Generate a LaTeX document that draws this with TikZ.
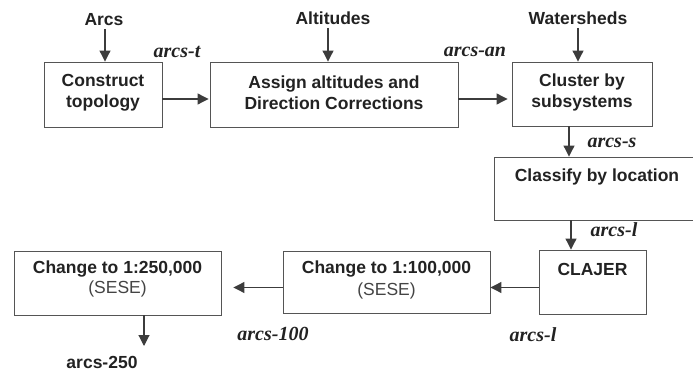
\documentclass[tikz,border=0pt]{standalone}
\usepackage{fontspec}
\setmainfont{Liberation Sans}
\newfontfamily\labelfont{Liberation Serif}
\usetikzlibrary{arrows.meta}
\definecolor{ink}{HTML}{222222}
\definecolor{edge}{HTML}{555555}
\begin{document}
\begin{tikzpicture}[x=1pt,y=-1pt,
  stepbox/.style={draw=edge,line width=0.9pt,rectangle,inner sep=0pt},
  boxtext/.style={font=\fontsize{17.5}{21}\selectfont\bfseries,text=ink,align=center,inner sep=0pt},
  subtext/.style={font=\fontsize{17.5}{21}\selectfont,text=edge!80!black,inner sep=0pt},
  flowlabel/.style={font=\fontsize{20}{22}\selectfont\labelfont\bfseries\itshape,text=ink,inner sep=0pt},
  flow/.style={draw=edge!70!black,line width=1.1pt,-{Triangle[length=11pt,width=11pt]}}
]
\useasboundingbox (0,0) rectangle (693,374);

% process boxes
\node[stepbox,minimum width=118,minimum height=65] (construct) at (103,94.5) {};
\node[stepbox,minimum width=248,minimum height=65] (assign) at (334,94.5) {};
\node[stepbox,minimum width=140,minimum height=64] (cluster) at (582,94) {};
\node[stepbox,minimum width=212,minimum height=63] (classify) at (600,188.5) {};
\node[stepbox,minimum width=107,minimum height=64] (clajer) at (592.5,282) {};
\node[stepbox,minimum width=207,minimum height=62] (chg100) at (386.5,282) {};
\node[stepbox,minimum width=207,minimum height=64] (chg250) at (117.5,283) {};

% box captions
\node[boxtext] (tconstruct) at (103,92.5) {Construct\\topology};
\node[boxtext] (tassign) at (334,92.5) {Assign altitudes and\\Direction Corrections};
\node[boxtext] (tcluster) at (582,92.5) {Cluster by\\subsystems};
\node[boxtext] (tclassify) at (597,177) {Classify by location};
\node[boxtext] (tclajer) at (592.5,269) {CLAJER};
\node[boxtext] (t100) at (386.5,269) {Change to 1:100,000};
\node[subtext] (s100) at (386.5,291) {(SESE)};
\node[boxtext] (t250) at (117.5,269.5) {Change to 1:250,000};
\node[subtext] (s250) at (117.5,289) {(SESE)};

% inputs
\node[boxtext] (arcs) at (104,20) {Arcs};
\node[boxtext] (alt) at (333,18.5) {Altitudes};
\node[boxtext] (wsh) at (578,18.5) {Watersheds};
\node[boxtext] (out250) at (102,362) {arcs-250};

% flow labels
\node[flowlabel] (lt) at (177,52) {arcs-t};
\node[flowlabel] (lan) at (475,52) {arcs-an};
\node[flowlabel] (ls) at (612,143) {arcs-s};
\node[flowlabel] (ll1) at (614,230) {arcs-l};
\node[flowlabel] (l100) at (273,334) {arcs-100};
\node[flowlabel] (ll2) at (533,335) {arcs-l};

% connector end points
\coordinate (arcsFoot) at (105,29);
\coordinate (altFoot) at (328,28);
\coordinate (wshFoot) at (578,28);
\coordinate (topRow) at (0,99);
\coordinate (lowRow) at (0,287.5);
\coordinate (cluOut) at (569,0);
\coordinate (claOut) at (571,0);
\coordinate (endDown) at (144,346);

% connectors
\draw[flow] (arcsFoot) -- (arcsFoot |- construct.north);
\draw[flow] (altFoot) -- (altFoot |- assign.north);
\draw[flow] (wshFoot) -- (wshFoot |- cluster.north);
\draw[flow] (construct.east |- topRow) -- ([xshift=-1]assign.west |- topRow);
\draw[flow] (assign.east |- topRow) -- ([xshift=-4]cluster.west |- topRow);
\draw[flow] (cluOut |- cluster.south) -- (cluOut |- classify.north);
\draw[flow] (claOut |- classify.south) -- (claOut |- clajer.north);
\draw[flow] (clajer.west |- lowRow) -- (chg100.east |- lowRow);
\draw[flow,shorten >=12pt] (chg100.west |- lowRow) -- (chg250.east |- lowRow);
\draw[flow] (chg250.south -| endDown) -- (endDown);
\end{tikzpicture}
\end{document}
